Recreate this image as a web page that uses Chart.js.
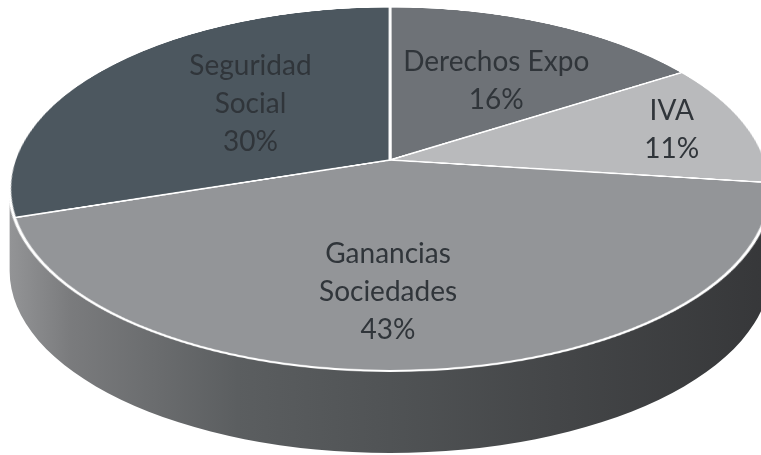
<!DOCTYPE html>
<html><head><meta charset="utf-8">
<script src="https://cdn.jsdelivr.net/npm/chart.js@4.4.1/dist/chart.umd.min.js"></script>
<style>
html,body{margin:0;padding:0;background:#fff;width:761px;height:455px;overflow:hidden;position:relative;}
#side{position:absolute;left:0;top:0;}
#pieWrap{position:absolute;left:0;top:0;width:760px;height:760px;}
#pie{display:block;}
.lbl{position:absolute;transform:translate(-50%,-50%);text-align:center;font-family:Lato,'Open Sans',sans-serif;font-size:28px;line-height:38px;color:#30353a;white-space:nowrap;}
</style></head><body>
<canvas id="side" width="761" height="455"></canvas>
<div id="pieWrap"><canvas id="pie" width="760" height="760"></canvas></div>
<div id="labels"></div>
<script>
// ---- data ----
const categories = ['Derechos Expo', 'IVA', 'Ganancias Sociedades', 'Seguridad Social'];
const labelLines = [['Derechos Expo'], ['IVA'], ['Ganancias', 'Sociedades'], ['Seguridad', 'Social']];
const shares = [16, 11, 43, 30];

// ---- style / layout ----
const sliceColors = ['#6e7277', '#b9babc', '#939598', '#4c575f'];
const vertex = {x: 390, y: 160};   // where the pie centre appears
const extentUp = 153, extentDown = 211, depth = 82;
const labelRadius = [0.62, 0.79, 0.66, 0.48];
const labelNudge = [[3, 8], [0, -2], [-28, 0], [0, -10]];

const chart = new Chart(document.getElementById('pie'), {
  type: 'pie',
  data: {
    labels: categories,
    datasets: [{
      data: shares,
      backgroundColor: sliceColors,
      borderColor: '#ffffff',
      borderWidth: 3
    }]
  },
  options: {
    responsive: false,
    devicePixelRatio: 1,
    animation: false,
    events: [],
    layout: {padding: 3},
    plugins: {legend: {display: false}, tooltip: {enabled: false}}
  }
});

const meta = chart.getDatasetMeta(0);
const a0 = meta.data[0];
const R = a0.outerRadius, pcx = a0.x, pcy = a0.y;
const k = (extentDown - extentUp) / (extentDown + extentUp);
const cosA = Math.min(1, extentUp * (1 + k) / R);
const A = Math.acos(cosA), sinA = Math.sin(A);
const P = R * sinA / k;

const wrap = document.getElementById('pieWrap');
wrap.style.left = (vertex.x - pcx) + 'px';
wrap.style.top = (vertex.y - pcy) + 'px';
const pc = document.getElementById('pie');
pc.style.transformOrigin = pcx + 'px ' + pcy + 'px';
pc.style.transform = 'perspective(' + P + 'px) rotateX(' + A + 'rad)';

function proj(x, y) {
  const s = P / (P - y * sinA);
  return [vertex.x + x * s, vertex.y + y * cosA * s];
}

// side of the cylinder
const sc = document.getElementById('side').getContext('2d');
const eCy = vertex.y + (extentDown - extentUp) / 2;
const eRy = (extentDown + extentUp) / 2;
const eRx = R / Math.sqrt(1 - k * k);
const ex = vertex.x;
const g = sc.createLinearGradient(ex - eRx, 0, ex + eRx, 0);
g.addColorStop(0, '#939496');
g.addColorStop(0.08, '#7a7b7d');
g.addColorStop(0.3, '#5b5e60');
g.addColorStop(0.5, '#505355');
g.addColorStop(0.72, '#444648');
g.addColorStop(1, '#363739');
sc.beginPath();
sc.moveTo(ex - eRx, eCy);
sc.lineTo(ex - eRx, eCy + depth);
sc.ellipse(ex, eCy + depth, eRx, eRy, 0, Math.PI, 0, true);
sc.lineTo(ex + eRx, eCy);
sc.ellipse(ex, eCy, eRx, eRy, 0, 0, Math.PI, false);
sc.closePath();
sc.fillStyle = g;
sc.fill();

// labels
const total = shares.reduce((s, v) => s + v, 0);
const lh = document.getElementById('labels');
meta.data.forEach((arc, i) => {
  const mid = (arc.startAngle + arc.endAngle) / 2;
  const f = labelRadius[i];
  const pt = proj(R * f * Math.cos(mid), R * f * Math.sin(mid));
  const d = document.createElement('div');
  d.className = 'lbl';
  d.style.left = (pt[0] + labelNudge[i][0]) + 'px';
  d.style.top = (pt[1] + labelNudge[i][1]) + 'px';
  const lines = labelLines[i].concat([Math.round(shares[i] / total * 100) + '%']);
  lines.forEach((t, j) => {
    if (j) d.appendChild(document.createElement('br'));
    d.appendChild(document.createTextNode(t));
  });
  lh.appendChild(d);
});
</script>
</body></html>
